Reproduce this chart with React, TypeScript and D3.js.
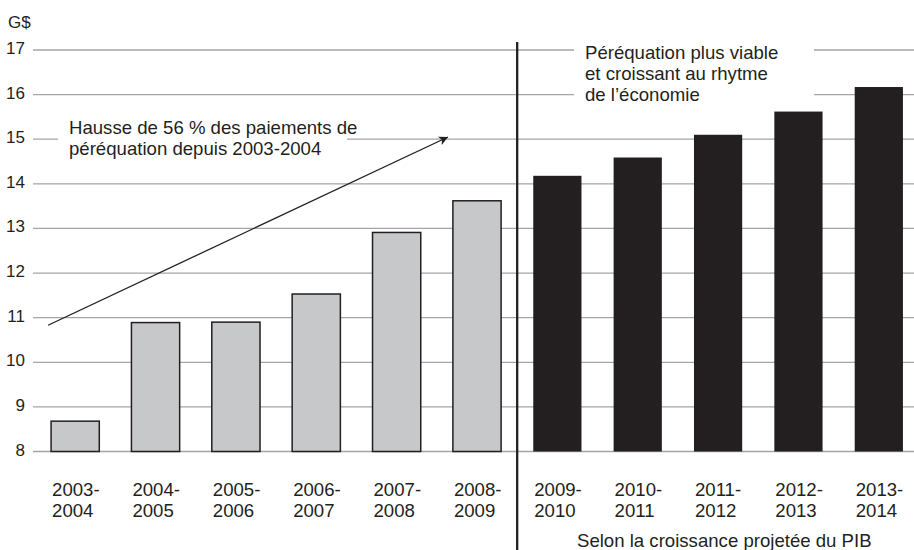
import React, { useRef, useEffect } from "react";
import * as d3 from "d3";

const categories = [
  "2003-2004", "2004-2005", "2005-2006", "2006-2007", "2007-2008", "2008-2009",
  "2009-2010", "2010-2011", "2011-2012", "2012-2013", "2013-2014"
];
// G$
const values = [8.68, 10.89, 10.9, 11.53, 12.91, 13.62, 14.18, 14.59, 15.1, 15.62, 16.17];
// first projected year (black bars)
const projectedFrom = 6;
const yTicks = [8, 9, 10, 11, 12, 13, 14, 15, 16, 17];

const leftNote = ["Hausse de 56 % des paiements de", "péréquation depuis 2003-2004"];
const rightNote = ["Péréquation plus viable", "et croissant au rhytme", "de l’économie"];
const bottomNote = "Selon la croissance projetée du PIB";

const App = () => {
  const node: any = useRef();

  useEffect(() => {
    const width = 914,
      height = 550;
    const ink = "#231f20";
    const font = "'Liberation Sans', Arial, Helvetica, sans-serif";

    const svg = d3.select(node.current);
    svg.selectAll("*").remove();
    svg.attr("width", width).attr("height", height);

    const x = d3
      .scaleBand()
      .domain(categories)
      .range([35, 919])
      .paddingInner(0.4)
      .paddingOuter(0.2);
    const y = d3.scaleLinear().domain([8, 17]).range([451.5, 50]);

    // grid
    svg
      .append("g")
      .selectAll("line")
      .data(yTicks)
      .enter()
      .append("line")
      .attr("x1", 33)
      .attr("x2", width)
      .attr("y1", d => y(d))
      .attr("y2", d => y(d))
      .attr("stroke", "#a3a5a8")
      .attr("stroke-width", 1.3);

    // tick labels
    svg
      .append("g")
      .selectAll("text")
      .data(yTicks)
      .enter()
      .append("text")
      .attr("x", 25)
      .attr("y", d => y(d) + 4)
      .attr("text-anchor", "end")
      .attr("font-family", font)
      .attr("font-size", 17)
      .attr("fill", ink)
      .text(d => d);

    svg
      .append("text")
      .attr("x", 8)
      .attr("y", 28)
      .attr("font-family", font)
      .attr("font-size", 17)
      .attr("fill", ink)
      .text("G$");

    // white boxes behind notes (they cut the grid)
    svg.append("rect").attr("x", 58).attr("y", 112).attr("width", 289).attr("height", 50).attr("fill", "white");
    svg.append("rect").attr("x", 574).attr("y", 40).attr("width", 240).attr("height", 66).attr("fill", "white");

    // bars
    svg
      .append("g")
      .selectAll("rect")
      .data(values)
      .enter()
      .append("rect")
      .attr("x", (_, i) => x(categories[i]) as number)
      .attr("width", x.bandwidth())
      .attr("y", d => y(d))
      .attr("height", d => y(8) - y(d))
      .attr("fill", (_, i) => (i < projectedFrom ? "#c7c8ca" : ink))
      .attr("stroke", ink)
      .attr("stroke-width", (_, i) => (i < projectedFrom ? 1.5 : 0));

    // category labels, two lines
    svg
      .append("g")
      .selectAll("text")
      .data(categories)
      .enter()
      .append("text")
      .attr("x", d => (x(d) as number) + 1)
      .attr("y", 496)
      .attr("font-family", font)
      .attr("font-size", 18.6)
      .attr("fill", ink)
      .call(t => {
        t.append("tspan").text(d => d.split("-")[0] + "-");
        t.append("tspan")
          .attr("x", d => (x(d) as number) + 1)
          .attr("dy", 20.7)
          .text(d => d.split("-")[1]);
      });

    // divider between actual and projected
    const divX = ((x(categories[projectedFrom - 1]) as number) + x.bandwidth() + (x(categories[projectedFrom]) as number)) / 2;
    svg
      .append("line")
      .attr("x1", divX)
      .attr("x2", divX)
      .attr("y1", 42)
      .attr("y2", height)
      .attr("stroke", ink)
      .attr("stroke-width", 2.3);

    // arrow
    svg
      .append("defs")
      .append("marker")
      .attr("id", "head")
      .attr("viewBox", "0 0 10 10")
      .attr("refX", 10)
      .attr("refY", 5)
      .attr("markerWidth", 13)
      .attr("markerHeight", 9)
      .attr("markerUnits", "userSpaceOnUse")
      .attr("orient", "auto")
      .append("path")
      .attr("d", "M0,0L10,5L0,10L2.5,5z")
      .attr("fill", ink);
    svg
      .append("line")
      .attr("x1", (x(categories[0]) as number) - 3)
      .attr("y1", y(10.83))
      .attr("x2", 448)
      .attr("y2", y(15.05))
      .attr("stroke", ink)
      .attr("stroke-width", 1.3)
      .attr("marker-end", "url(#head)");

    const note = (lines: string[], x0: number, y0: number) =>
      svg
        .append("text")
        .attr("font-family", font)
        .attr("font-size", 18.6)
        .attr("fill", ink)
        .selectAll("tspan")
        .data(lines)
        .enter()
        .append("tspan")
        .attr("x", x0)
        .attr("y", (_, i) => y0 + i * 21)
        .text(d => d);

    note(leftNote, 69, 134);
    note(rightNote, 585, 59);
    note([bottomNote], 577, 547);
  }, []);

  return (
    <div style={{ position: "absolute", left: 0, top: 0 }}>
      <svg ref={node}></svg>
    </div>
  );
};

export default App;
